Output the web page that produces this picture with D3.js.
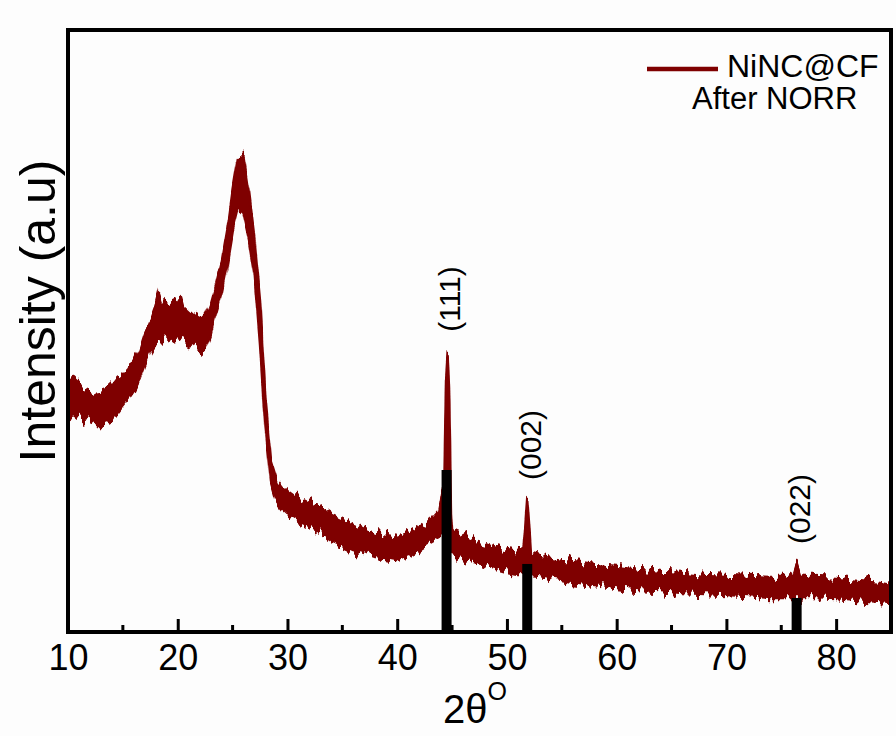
<!DOCTYPE html>
<html>
<head>
<meta charset="utf-8">
<script src="https://cdn.jsdelivr.net/npm/d3@7"></script>
<style>
  html, body { margin: 0; padding: 0; background: #fdfdfd; }
  svg { display: block; font-family: "Liberation Sans", Arial, sans-serif; }
</style>
</head>
<body>
<svg id="chart" width="896" height="736"></svg>
<script>
// XRD pattern of NiNC@CF after NORR: 2θ (degrees) with the lower and upper
// edge of the noisy intensity trace (counts, arbitrary units).
const twoTheta = [
  10, 10.5, 11, 11.5, 12, 12.5, 13, 13.5, 14, 14.5, 15, 15.5, 16, 16.5, 17, 17.5,
  18, 18.3, 18.5, 19, 19.5, 20, 20.3, 20.5, 21, 21.5, 22, 22.5, 23, 23.5, 24, 24.5,
  25, 25.5, 26, 26.5, 27, 27.5, 28, 28.5, 29, 29.5, 30, 31, 32, 33, 34, 35, 36,
  37, 38, 39, 40, 41, 42, 43, 43.8, 44.3, 44.45, 44.6, 44.75, 44.9, 45, 46, 47,
  48, 49, 50, 51, 51.5, 51.7, 51.85, 52.0, 52.2, 53, 54, 55, 56, 58, 60, 62, 64,
  66, 68, 70, 72, 74, 75.5, 76.1, 76.4, 76.7, 77, 78, 80, 82, 84, 85
];
const upperEdge = [
  2520, 2540, 2490, 2440, 2420, 2390, 2400, 2420, 2470, 2540, 2580, 2640, 2720, 2820, 2990, 3120,
  3270, 3390, 3320, 3270, 3320, 3290, 3350, 3270, 3220, 3170, 3140, 3140, 3270, 3470, 3700, 4020,
  4420, 4750, 4740, 4370, 3920, 3320, 2320, 1720, 1540, 1470, 1420, 1340, 1290, 1240, 1170, 1120, 1070,
  1020, 990, 970, 950, 990, 1050, 1120, 1220, 1520, 2520, 2770, 2320, 1220, 1020, 970, 920,
  890, 850, 820, 800, 790, 1120, 1350, 1120, 770, 750, 730, 710, 700, 670, 650, 620, 600,
  590, 570, 560, 550, 540, 540, 570, 670, 570, 550, 550, 540, 520, 500, 480
];
const lowerEdge = [
  2170, 2200, 2160, 2120, 2090, 2070, 2070, 2090, 2120, 2200, 2270, 2340, 2420, 2520, 2670, 2800,
  2890, 2900, 2920, 2950, 2920, 2940, 2930, 2920, 2890, 2860, 2840, 2830, 2970, 3200, 3400, 3670,
  4000, 4220, 4170, 3920, 3570, 2870, 2020, 1470, 1290, 1220, 1170, 1100, 1050, 1000, 920, 870, 820,
  790, 750, 740, 720, 760, 820, 890, 940, 1020, 1020, 1020, 1020, 1020, 770, 740, 700,
  670, 640, 610, 590, 590, 590, 590, 590, 570, 560, 540, 520, 500, 470, 440, 420, 410,
  390, 380, 370, 360, 340, 340, 340, 340, 340, 350, 350, 340, 320, 300, 290
];

// Ni standard reflections (JCPDS 04-0850): position and relative intensity
const refPeaks = [44.5, 51.85, 76.4];
const refIntensity = [100, 42, 21];
const refLabels = ["(111)", "(002)", "(022)"];
const labelIntensity = [3330, 1870, 1230];   // label centre height, same counts scale

const xTicks = [10, 20, 30, 40, 50, 60, 70, 80];
const xMinorTicks = [15, 25, 35, 45, 55, 65, 75, 85];

const seriesName = "NiNC@CF";
const seriesNote = "After NORR";
const traceColor = "#7f0000";

const svg = d3.select("#chart");
const m = { left: 68, right: 891, top: 30, bottom: 632 };

const x = d3.scaleLinear().domain([10, 85]).range([m.left, m.right]);
const y = d3.scaleLinear().domain([0, 6020]).range([m.bottom, m.top]);
const yRef = d3.scaleLinear().domain([0, 100]).range([m.bottom, 470]);

const trace = twoTheta.map((t, i) => ({ t, lo: lowerEdge[i], hi: upperEdge[i] }));

const defs = svg.append("defs");
defs.append("clipPath").attr("id", "plotClip")
  .append("rect").attr("x", m.left).attr("y", m.top)
  .attr("width", m.right - m.left).attr("height", m.bottom - m.top);

// counting-noise texture for the trace edges (vertical jitter only)
const rough = defs.append("filter").attr("id", "rough")
  .attr("x", "-2%").attr("y", "-5%").attr("width", "104%").attr("height", "110%")
  .attr("color-interpolation-filters", "sRGB");
rough.append("feTurbulence")
  .attr("type", "fractalNoise").attr("baseFrequency", "0.22 0.03")
  .attr("numOctaves", 2).attr("seed", 7).attr("result", "noise");
rough.append("feColorMatrix")
  .attr("in", "noise").attr("type", "matrix")
  .attr("values", "0 1 0 0 0  0 1 0 0 0  0 0 0 0 0.5  0 0 0 0 1")
  .attr("result", "shift");
rough.append("feDisplacementMap")
  .attr("in", "SourceGraphic").attr("in2", "shift")
  .attr("scale", 20).attr("xChannelSelector", "B").attr("yChannelSelector", "G");

const plot = svg.append("g").attr("clip-path", "url(#plotClip)");

// measured trace drawn as a band between its noisy edges
plot.append("path")
  .datum(trace)
  .attr("fill", traceColor)
  .attr("stroke", traceColor)
  .attr("stroke-width", 2.5)
  .attr("stroke-linejoin", "round")
  .attr("filter", "url(#rough)")
  .attr("d", d3.area().x(d => x(d.t)).y0(d => y(d.lo)).y1(d => y(d.hi)));

// reference bars
const barW = 10;
plot.selectAll("rect.ref")
  .data(refPeaks.map((p, i) => ({ p, v: refIntensity[i] })))
  .join("rect")
  .attr("class", "ref")
  .attr("x", d => x(d.p) - barW / 2)
  .attr("width", barW)
  .attr("y", d => yRef(d.v))
  .attr("height", d => m.bottom - yRef(d.v))
  .attr("fill", "#000");

// peak labels
svg.selectAll("text.peak")
  .data(refLabels.map((l, i) => ({ l, p: refPeaks[i], v: labelIntensity[i] })))
  .join("text")
  .attr("class", "peak")
  .attr("transform", d => `translate(${x(d.p) + 3},${y(d.v)}) rotate(-90)`)
  .attr("text-anchor", "middle")
  .attr("dominant-baseline", "central")
  .attr("font-size", 30)
  .attr("fill", "#000")
  .text(d => d.l);

// bottom axis with inward ticks
const xAxis = svg.append("g").attr("transform", `translate(0,${m.bottom})`);
xAxis.call(d3.axisBottom(x).tickValues(xTicks).tickSize(-13).tickPadding(12).tickFormat(d3.format("d")))
  .call(g => g.select(".domain").remove())
  .call(g => g.selectAll(".tick line").attr("stroke", "#000").attr("stroke-width", 3))
  .call(g => g.selectAll(".tick text").attr("font-size", 36).attr("fill", "#000")
    .attr("font-family", "'Liberation Sans', Arial, sans-serif"));
xAxis.selectAll("line.minor")
  .data(xMinorTicks)
  .join("line")
  .attr("class", "minor")
  .attr("x1", d => x(d)).attr("x2", d => x(d))
  .attr("y1", 0).attr("y2", -7)
  .attr("stroke", "#000").attr("stroke-width", 3);

// frame
svg.append("rect")
  .attr("x", m.left).attr("y", m.top)
  .attr("width", m.right - m.left).attr("height", m.bottom - m.top)
  .attr("fill", "none").attr("stroke", "#000").attr("stroke-width", 4);

// axis titles
const xt = svg.append("text")
  .attr("x", 443).attr("y", 723)
  .attr("font-size", 40).attr("fill", "#000");
xt.append("tspan").text("2θ");
xt.append("tspan").attr("font-size", 25).attr("dy", -23).text("O");

svg.append("text")
  .attr("transform", "translate(38,311) rotate(-90)")
  .attr("text-anchor", "middle")
  .attr("dominant-baseline", "central")
  .attr("font-size", 50)
  .attr("fill", "#000")
  .text("Intensity (a.u)");

// legend
const lg = svg.append("g");
lg.append("line")
  .attr("x1", 647).attr("x2", 718).attr("y1", 69).attr("y2", 69)
  .attr("stroke", traceColor).attr("stroke-width", 4.5);
lg.append("text").attr("x", 727).attr("y", 77)
  .attr("font-size", 32).attr("fill", "#000").text(seriesName);
lg.append("text").attr("x", 692).attr("y", 109)
  .attr("font-size", 31).attr("fill", "#000").text(seriesNote);
</script>
</body>
</html>
